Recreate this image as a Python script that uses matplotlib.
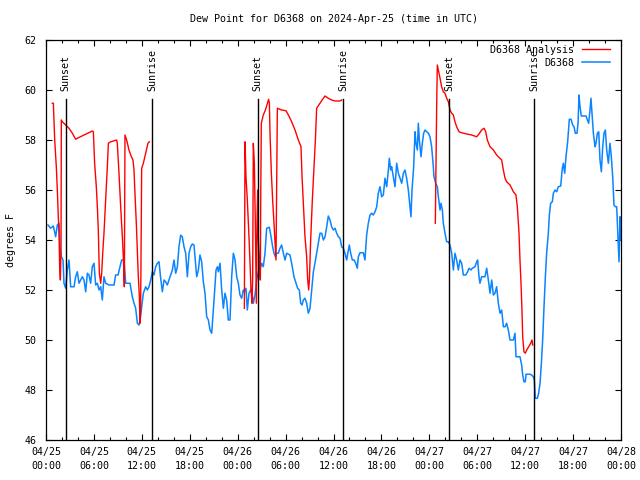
"""Dew point for D6368, observed vs analysis, 2024-04-25 to 2024-04-28 (UTC)."""

import matplotlib

matplotlib.use("Agg")
matplotlib.rcParams["font.family"] = "DejaVu Sans Mono"
matplotlib.rcParams["font.size"] = 7.2

import matplotlib.pyplot as plt  # noqa: E402
import numpy as np  # noqa: E402

# hours since 2024-04-25 00:00 UTC, dew point in deg F
obs_hours = [
    0.25, 0.58, 0.92, 1.21, 1.42, 1.63, 1.75, 1.92, 2.13, 2.25, 2.46, 2.67, 2.88, 3.09, 3.51,
    3.71, 3.92, 4.13, 4.34, 4.55, 4.76, 4.97, 5.18, 5.38, 5.59, 5.80, 6.01, 6.22, 6.43, 6.64,
    6.85, 7.05, 7.26, 7.47, 7.89, 8.31, 8.52, 8.72, 9.02, 9.27, 9.47, 9.77, 9.98, 10.52, 10.81,
    11.02, 11.23, 11.44, 11.65, 11.85, 11.98, 12.19, 12.48, 12.69, 12.90, 13.11, 13.32, 13.52,
    13.73, 13.94, 14.15, 14.36, 14.57, 14.78, 14.98, 15.19, 15.53, 15.82, 16.03, 16.24, 16.45,
    16.65, 16.86, 17.07, 17.28, 17.49, 17.70, 17.91, 18.12, 18.32,
    18.53, 18.66, 18.87, 19.08, 19.28, 19.49, 19.70, 19.91, 20.12, 20.33, 20.54, 20.75, 20.87,
    21.04, 21.29, 21.46, 21.58, 21.79, 22.00, 22.21, 22.41, 22.62, 22.83, 23.04, 23.25, 23.46,
    23.67, 23.88, 24.08, 24.29, 24.50, 24.71, 24.84, 25.04, 25.21, 25.42, 25.63, 25.80, 25.96,
    26.17, 26.38, 26.59, 26.80, 27.01, 27.21, 27.42, 27.63, 27.97, 28.18, 28.38, 28.55, 28.72,
    28.88, 29.09, 29.30, 29.51, 29.72, 29.93, 30.14, 30.55, 30.76, 31.05, 31.31, 31.51, 31.72,
    31.89, 32.06, 32.22, 32.43, 32.64, 32.85, 33.06, 33.27, 33.48, 33.68, 33.89, 34.10, 34.31,
    34.52, 34.73, 34.94, 35.15, 35.35, 35.56, 35.77, 35.98, 36.19, 36.40, 36.61, 36.82,
    37.02, 37.23, 37.44, 37.65, 37.86, 37.98, 38.15, 38.36, 38.57, 38.78, 38.98, 39.11, 39.32,
    39.74, 39.94, 40.15, 40.36, 40.57, 40.78, 40.99, 41.20, 41.41, 41.61, 41.82, 42.03, 42.24,
    42.45, 42.66, 42.87, 42.99, 43.16, 43.28, 43.49, 43.70, 43.91, 44.12, 44.33, 44.54, 44.75,
    44.95, 45.16, 45.37, 45.58, 45.70, 45.83, 46.04, 46.21, 46.33, 46.50, 46.62, 46.75, 46.96,
    47.12, 47.29, 47.46, 47.67, 47.88, 48.08, 48.29, 48.50, 48.58, 48.79, 49.00, 49.13, 49.34,
    49.46, 49.63, 49.75, 49.96, 50.17, 50.38, 50.59, 50.80, 51.01, 51.21, 51.42, 51.63, 51.84,
    52.05, 52.26, 52.55, 52.80, 52.97, 53.22, 53.38, 53.72, 53.93, 54.05, 54.22, 54.34, 54.55,
    54.97, 55.18, 55.39, 55.60, 55.81, 56.02, 56.22, 56.43, 56.64, 56.85, 57.06, 57.27, 57.48,
    57.68, 57.89, 58.10, 58.52, 58.73, 58.85, 59.35, 59.56, 59.69, 59.85, 60.02, 60.11, 60.61,
    60.81, 61.02, 61.15, 61.27, 61.52, 61.69, 61.86, 62.03, 62.19, 62.36, 62.53, 62.69, 62.90,
    63.03, 63.19, 63.40, 63.53, 63.74, 63.95, 64.15, 64.45, 64.65, 64.78, 64.95, 65.11, 65.32,
    65.53, 65.74, 65.95, 66.12, 66.28, 66.49, 66.62, 66.74, 66.87, 67.03, 67.62, 67.79, 67.95,
    68.12, 68.24, 68.37, 68.54, 68.75, 68.87, 69.04, 69.21, 69.37, 69.54, 69.71, 69.87, 70.04,
    70.21, 70.42, 70.62, 70.79, 70.96, 71.12, 71.29, 71.46, 71.63, 71.75, 71.88, 72.0,
]
obs_dewpt = [
    54.6, 54.47, 54.56, 54.13, 54.6, 54.67, 53.73, 53.33, 53.2, 52.27, 52.07, 52.8, 53.2, 52.13, 52.13,
    52.53, 52.73, 52.27, 52.4, 52.53, 52.4, 51.93, 52.67, 52.6, 52.27, 52.93, 53.07, 52.2, 52.27, 52.0,
    52.13, 51.6, 52.53, 52.27, 52.2, 52.2, 52.2, 52.6, 52.6, 52.93, 53.2, 53.2, 52.27, 52.27, 51.73,
    51.47, 51.27, 50.67, 50.6, 50.93, 51.33, 51.87, 52.13, 52.0, 52.13, 52.4, 52.73, 52.6,
    52.93, 53.07, 53.13, 52.47, 51.93, 52.4, 52.33, 52.2, 52.53, 52.8, 53.2, 52.67, 52.93,
    53.73, 54.19, 54.13, 53.73, 53.47, 52.53, 53.47, 53.73, 53.84,
    53.8, 53.33, 52.53, 52.8, 53.4, 53.13, 52.33, 51.87, 50.93, 50.8, 50.4, 50.27, 50.8,
    51.6, 52.8, 52.93, 52.73, 53.07, 52.0, 51.27, 51.87, 51.6, 50.8, 50.8, 52.53, 53.47,
    53.2, 52.53, 52.27, 51.8, 51.67, 52.0, 51.93, 52.07, 51.2, 51.87, 52.0, 51.87, 51.47,
    51.8, 52.4, 52.73, 52.8, 53.07, 52.93, 53.47, 54.47, 54.51, 54.13, 53.73, 53.47, 53.33,
    53.47, 53.47, 53.67, 53.8, 53.47, 53.2, 53.47, 53.4, 53.07, 52.53, 52.27, 52.07, 52.0,
    51.47, 51.4, 51.6, 51.67, 51.47, 51.07, 51.27, 52.0, 52.73, 53.07, 53.47, 53.87, 54.27,
    54.27, 54.0, 54.13, 54.53, 54.96, 54.8, 54.53, 54.4, 54.47, 54.27, 54.13, 54.07,
    53.73, 53.67, 53.47, 53.2, 53.6, 53.8, 53.47, 53.2, 53.2, 53.07, 52.87, 53.33, 53.49,
    53.49, 53.2, 54.2, 54.67, 55.0, 55.07, 55.0, 55.13, 55.33, 55.87, 56.13, 55.73, 55.8,
    56.47, 56.13, 56.8, 57.27, 56.8, 56.93, 56.53, 56.13, 57.07, 56.67, 56.47, 56.27, 56.67,
    56.8, 56.47, 56.0, 55.33, 54.93, 56.0, 56.93, 58.33, 57.87, 57.6, 58.67, 58.0, 57.33,
    57.87, 58.27, 58.4, 58.33, 58.27, 58.13, 57.73, 56.93, 56.53, 56.27, 56.13, 55.73, 55.2,
    55.47, 55.2, 54.67, 54.27, 53.93, 53.93, 53.8, 53.47, 52.8, 53.47, 53.2, 52.8, 53.2,
    53.07, 52.6, 52.6, 52.73, 52.87, 52.8, 52.87, 52.93, 53.13, 53.2, 52.53, 52.27, 52.53,
    52.53, 52.87, 52.4, 51.87, 52.4, 51.8, 51.87, 52.13, 51.47, 51.07, 51.2, 50.53, 50.53,
    50.67, 50.4, 50.0, 50.0, 50.27, 49.33, 49.33, 49.0, 48.6, 48.33, 48.33, 48.63, 48.63,
    48.6, 48.53, 48.4, 47.67, 47.67, 47.87, 48.27, 49.07, 50.0, 51.33, 52.53, 53.47, 54.27,
    55.0, 55.47, 55.53, 55.87, 56.0, 55.93, 56.13, 56.16, 56.87, 57.07, 56.67, 57.33, 57.93,
    58.83, 58.83, 58.6, 58.53, 58.27, 58.27, 58.67, 59.8, 59.33, 58.96, 58.96, 58.8, 58.67,
    59.2, 59.67, 59.07, 58.27, 57.73, 57.87, 58.27, 58.33, 57.2, 56.73, 57.73, 58.27, 58.4,
    57.6, 57.07, 57.87, 57.33, 56.53, 55.4, 55.33, 55.33, 54.0, 53.13, 54.93, 54.0,
]

# analysis only exists in three night-time segments
ana_hours_1 = [
    0.79, 0.92, 1.09, 1.29, 1.42, 1.54, 1.63, 1.71, 1.80, 1.88, 1.92, 2.05, 2.46, 2.88, 3.30,
    3.71, 3.92, 4.76, 5.80, 5.93, 6.09, 6.30, 6.43, 6.55, 6.68, 6.85, 6.97, 7.10, 7.26, 7.39,
    7.51, 7.68, 7.81, 8.10, 8.51, 8.85, 8.93, 9.14, 9.35, 9.56, 9.68, 9.81, 9.89, 10.10, 10.39,
    10.69, 10.89, 11.02, 11.14, 11.31, 11.44, 11.56, 11.69, 11.77, 11.85, 11.94, 11.98, 12.19,
    12.48, 12.77, 12.94,
]
ana_dewpt_1 = [
    59.47, 59.47, 58.0, 56.93, 56.0, 54.93, 54.27, 52.93, 52.4, 53.6, 58.8, 58.73, 58.6, 58.47, 58.27,
    58.03, 58.07, 58.2, 58.36, 58.33, 57.07, 56.13, 55.33, 54.4, 52.67, 52.27, 52.67, 53.47, 54.27, 55.07,
    55.87, 56.93, 57.87, 57.93, 57.97, 58.0, 57.87, 56.67, 55.33, 54.13, 53.33, 52.13, 58.2, 58.0, 57.6,
    57.33, 57.2, 56.8, 55.87, 54.67, 53.6, 52.53, 51.73, 50.67, 51.33, 55.6, 56.87, 57.07,
    57.47, 57.87, 57.93,
]
ana_hours_2 = [
    24.84, 24.92, 25.04, 25.21, 25.38, 25.55, 25.67, 25.80, 25.88, 25.96, 26.09, 26.21, 26.34,
    26.42, 26.51, 26.59, 26.71, 26.84, 26.88, 26.96, 27.21, 27.47, 27.72, 27.88, 27.97, 28.05,
    28.22, 28.38, 28.55, 28.68, 28.80, 28.88, 28.97, 29.51, 30.05, 30.35, 30.76, 31.18, 31.60,
    31.93, 32.06, 32.22, 32.43, 32.64, 32.77, 32.89, 32.98, 33.14, 33.35, 33.56, 33.73, 33.89,
    34.31, 34.64, 34.94, 35.35, 35.77, 36.19, 36.82, 37.02,
]
ana_dewpt_2 = [
    51.27, 57.93, 56.53, 55.6, 54.4, 53.07, 52.0, 51.47, 52.53, 57.87, 57.07, 54.67, 51.47,
    54.67, 56.0, 54.0, 53.07, 52.4, 55.33, 58.67, 59.0, 59.2, 59.47, 59.63, 59.47, 58.27,
    56.67, 55.6, 54.67, 53.87, 53.2, 56.0, 59.27, 59.2, 59.17, 59.0, 58.73, 58.4, 58.0,
    57.73, 56.53, 55.47, 54.13, 53.33, 52.4, 52.0, 52.4, 54.0, 55.6, 56.93, 58.0, 59.27,
    59.47, 59.63, 59.76, 59.67, 59.6, 59.56, 59.56, 59.6,
]
ana_hours_3 = [
    48.75, 48.84, 48.92, 49.00, 49.13, 49.34, 49.54, 49.75, 49.96, 50.17, 50.38, 50.59, 50.80,
    51.01, 51.21, 51.42, 51.72, 52.05, 52.68, 53.30, 53.93, 54.22, 54.55, 54.85, 55.06, 55.26,
    55.60, 56.02, 56.43, 56.85, 57.06, 57.27, 57.48, 57.68, 58.10, 58.31, 58.52, 58.85, 59.02,
    59.23, 59.35, 59.48, 59.60, 59.69, 59.85, 60.02, 60.19, 60.44, 60.69, 60.86, 60.94,
]
ana_dewpt_3 = [
    54.67, 57.2, 59.4, 61.0, 60.8, 60.47, 60.13, 59.93, 59.87, 59.67, 59.53, 59.2, 59.07,
    59.0, 58.73, 58.53, 58.33, 58.29, 58.24, 58.2, 58.13, 58.24, 58.4, 58.47, 58.33, 58.0,
    57.73, 57.6, 57.4, 57.27, 57.2, 56.8, 56.47, 56.33, 56.2, 56.07, 55.93, 55.8, 55.33,
    54.27, 53.2, 52.27, 51.2, 50.13, 49.53, 49.47, 49.6, 49.73, 49.87, 50.0, 49.8,
]

sun_hours = [2.46, 13.31, 26.5, 37.23, 50.5, 61.15]
sun_labels = ["Sunset", "Sunrise", "Sunset", "Sunrise", "Sunset", "Sunrise"]

xtick_hours = [0, 6, 12, 18, 24, 30, 36, 42, 48, 54, 60, 66, 72]
xtick_labels = [
    "04/25\n00:00", "04/25\n06:00", "04/25\n12:00", "04/25\n18:00",
    "04/26\n00:00", "04/26\n06:00", "04/26\n12:00", "04/26\n18:00",
    "04/27\n00:00", "04/27\n06:00", "04/27\n12:00", "04/27\n18:00",
    "04/28\n00:00",
]
yticks = [46, 48, 50, 52, 54, 56, 58, 60, 62]

RED = "#ff0000"
BLUE = "#0a84ff"

fig = plt.figure(figsize=(6.4, 4.8), dpi=100)
ax = fig.add_axes([46 / 640, 40 / 480, 575 / 640, 400 / 480])

ana_hours = ana_hours_1 + [np.nan] + ana_hours_2 + [np.nan] + ana_hours_3
ana_dewpt = ana_dewpt_1 + [np.nan] + ana_dewpt_2 + [np.nan] + ana_dewpt_3
ax.plot(ana_hours, ana_dewpt, color=RED, linewidth=1.0, label="D6368 Analysis", zorder=3)
ax.plot(obs_hours, obs_dewpt, color=BLUE, linewidth=1.1, label="D6368", zorder=2)

for h, lab in zip(sun_hours, sun_labels):
    ax.plot([h, h], [46, 59.65], color="black", linewidth=1.0, zorder=4)
    ax.text(h, 59.95, lab, rotation=90, ha="center", va="bottom", fontsize=7.2)

ax.set_xlim(0, 72)
ax.set_ylim(46, 62)
ax.set_xticks(xtick_hours)
ax.set_xticklabels(xtick_labels, linespacing=1.45)
ax.set_xticks(np.arange(0, 73, 2), minor=True)
ax.set_yticks(yticks)
ax.tick_params(which="both", direction="in", top=True, right=True, width=0.8)
ax.tick_params(which="major", length=4.5)
ax.tick_params(axis="x", which="major", pad=5)
ax.tick_params(axis="y", which="major", pad=7)
ax.tick_params(which="minor", length=2.5)
for side in ax.spines.values():
    side.set_linewidth(0.9)

ax.set_title("Dew Point for D6368 on 2024-Apr-25 (time in UTC)", fontsize=7.2, pad=13)
ax.set_ylabel("degrees F", labelpad=6)

ax.legend(
    loc="upper right",
    bbox_to_anchor=((610 - 46) / 575, 1 - 5 / 400),
    frameon=False,
    markerfirst=False,
    handlelength=2.8,
    handletextpad=0.8,
    borderpad=0,
    borderaxespad=0,
    labelspacing=0.3,
    fontsize=7.2,
)

fig.savefig("out.png", dpi=100)
